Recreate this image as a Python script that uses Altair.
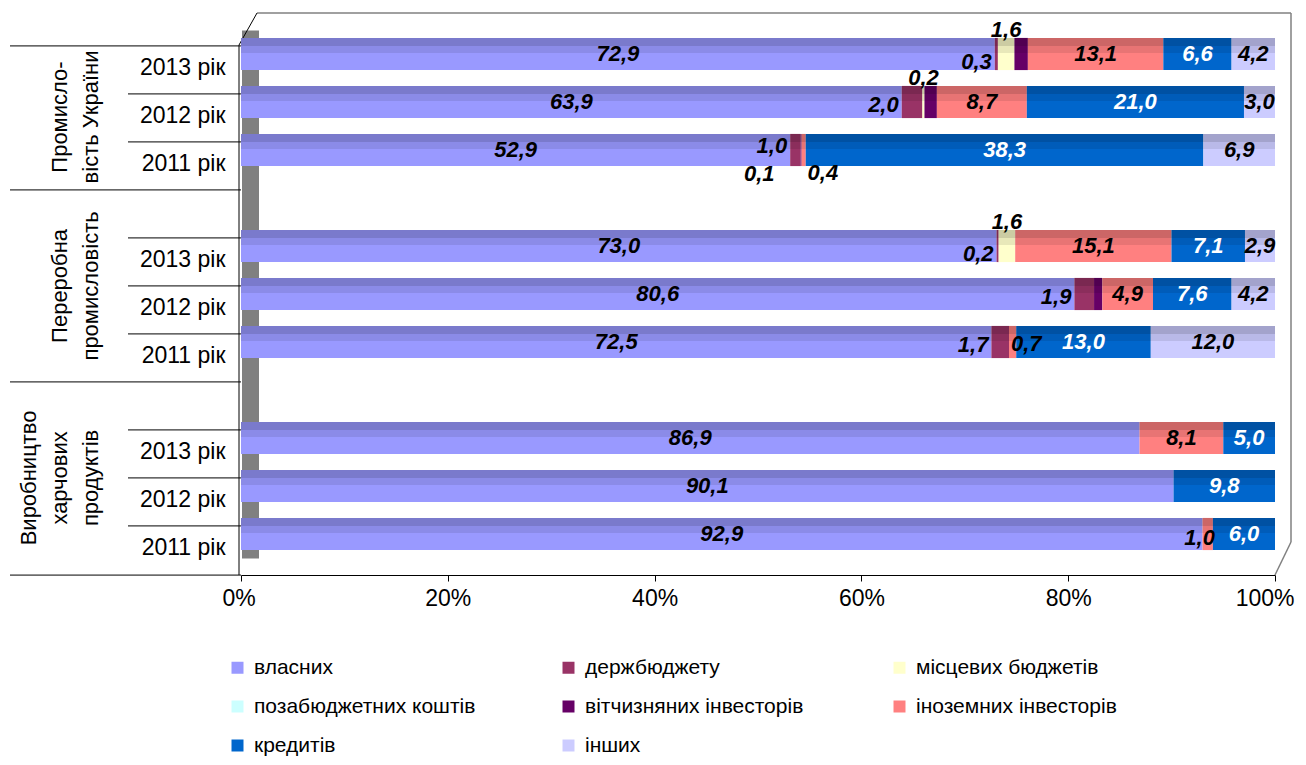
import altair as alt
import pandas as pd

groups = ["Промисловість України", "Переробна промисловість", "Виробництво харчових продуктів"]
group_titles = ["Промисло-\nвість України", "Переробна\nпромисловість", "Виробництво\nхарчових\nпродуктів"]
years = ["2013 рік", "2012 рік", "2011 рік"]

series = ["власних", "держбюджету", "місцевих бюджетів", "позабюджетних коштів",
          "вітчизняних інвесторів", "іноземних інвесторів", "кредитів", "інших"]
colors = ["#9999FF", "#993366", "#FFFFCC", "#CCFFFF", "#660066", "#FF8080", "#0066CC", "#CCCCFF"]

# rows: Промисловість 2013, 2012, 2011; Переробна 2013, 2012, 2011; Харчова 2013, 2012, 2011
vlasnykh = [72.9, 63.9, 52.9, 73.0, 80.6, 72.5, 86.9, 90.1, 92.9]
derzhbiudzhet = [0.3, 2.0, 1.0, 0.2, 1.9, 1.7, 0.0, 0.0, 0.0]
mistsevi = [1.6, 0.2, 0.0, 1.6, 0.0, 0.0, 0.0, 0.0, 0.0]
pozabiudzhetni = [0.0, 0.0, 0.0, 0.0, 0.0, 0.0, 0.0, 0.0, 0.0]
vitchyzniani = [1.3, 1.2, 0.1, 0.0, 0.8, 0.0, 0.0, 0.0, 0.0]
inozemni = [13.1, 8.7, 0.4, 15.1, 4.9, 0.7, 8.1, 0.0, 1.0]
kredyty = [6.6, 21.0, 38.3, 7.1, 7.6, 13.0, 5.0, 9.8, 6.0]
inshi = [4.2, 3.0, 6.9, 2.9, 4.2, 12.0, 0.0, 0.0, 0.0]

values_by_series = [vlasnykh, derzhbiudzhet, mistsevi, pozabiudzhetni,
                    vitchyzniani, inozemni, kredyty, inshi]

FONT = "Liberation Sans"
W, H = 1034, 528

# category order (top to bottom) with blank spacer rows between groups
cat_order = []
for g, grp in enumerate(groups):
    if g > 0:
        cat_order.append(grp + "|")
    for yr in years:
        cat_order.append(grp + "|" + yr)

records = []
for i in range(len(vlasnykh)):
    grp = groups[i // 3]
    yr = years[i % 3]
    for k, s in enumerate(series):
        v = values_by_series[k][i]
        if v > 0:
            records.append({"cat": grp + "|" + yr, "series": s, "order": k, "value": v})
df = pd.DataFrame(records)

yscale = alt.Scale(domain=cat_order, paddingInner=0.33, paddingOuter=0.165)
xscale = alt.Scale(domain=[0, 1], nice=False)

base = alt.Chart(df).transform_stack(
    stack="value", groupby=["cat"], as_=["x0", "x1"],
    sort=[alt.SortField("order", order="ascending")], offset="normalize"
).transform_calculate(
    mid="(datum.x0 + datum.x1) / 2",
    label="replace(format(datum.value, '.1f'), '.', ',')"
)

bars = base.mark_bar().encode(
    x=alt.X("x0:Q", scale=xscale,
            axis=alt.Axis(values=[0, 0.2, 0.4, 0.6, 0.8, 1.0], format=".0%", title=None,
                          grid=False, offset=17, labelFontSize=23, labelFont=FONT,
                          labelColor="black", domainColor="black", tickColor="black",
                          tickSize=6, labelPadding=6, labelFlush=True, labelFlushOffset=19,
                          labelOverlap=False)),
    x2="x1:Q",
    y=alt.Y("cat:N", scale=yscale,
            axis=alt.Axis(title=None, labelExpr="split(datum.value, '|')[1]",
                          domain=True, domainColor="#808080", domainWidth=17, offset=-9,
                          ticks=False, labelFontSize=23, labelFont=FONT, labelColor="black",
                          labelPadding=25, labelOffset=14)),
    color=alt.Color("series:N", scale=alt.Scale(domain=series, range=colors),
                    legend=alt.Legend(title=None, orient="none", legendX=-14, legendY=627,
                                      direction="horizontal",
                                      columns=3, columnPadding=82, rowPadding=17,
                                      gridAlign="all", symbolType="square", symbolSize=144,
                                      symbolStrokeWidth=0, labelFontSize=21, labelFont=FONT,
                                      labelColor="black", labelLimit=400, labelOffset=6)),
)

# darker upper part of each bar (3-D shading)
shade1 = base.mark_bar(height=8, yOffset=-12, color="black", opacity=0.2).encode(
    x="x0:Q", x2="x1:Q", y="cat:N")
shade2 = base.mark_bar(height=7, yOffset=-4.5, color="black", opacity=0.09).encode(
    x="x0:Q", x2="x1:Q", y="cat:N")

txt_color = alt.condition("datum.series == 'кредитів'", alt.value("white"), alt.value("black"))
lab = dict(font=FONT, fontSize=22, fontWeight="bold", fontStyle="italic", baseline="middle")


def labels(cond, x, align, dx=0, dy=0):
    return base.transform_filter(cond).mark_text(align=align, dx=dx, dy=dy, **lab).encode(
        x=x, y="cat:N", text="label:N", color=txt_color)


t_big = labels("datum.value >= 2.5", "mid:Q", "center")
t_mist = labels("datum.series == 'місцевих бюджетів'", "mid:Q", "center", dy=-24)
t_derzh1 = labels("datum.series == 'держбюджету' && datum.value < 0.5", "x0:Q", "right", dx=-3, dy=8)
t_derzh2 = labels("datum.series == 'держбюджету' && datum.value >= 0.5 && datum.value < 1.5",
                  "x0:Q", "right", dx=-3, dy=-4)
t_derzh3 = labels("datum.series == 'держбюджету' && datum.value >= 1.5 && datum.value < 2.5",
                  "x0:Q", "right", dx=-3, dy=3)
t_vitch = labels("datum.series == 'вітчизняних інвесторів' && datum.value < 0.5", "x0:Q", "right",
                 dx=-26, dy=24)
t_in1 = labels("datum.series == 'іноземних інвесторів' && datum.value < 0.5", "x0:Q", "left", dx=6, dy=23)
t_in2 = labels("datum.series == 'іноземних інвесторів' && datum.value >= 0.5 && datum.value < 0.9",
               "x0:Q", "left", dx=2, dy=2)
t_in3 = labels("datum.series == 'іноземних інвесторів' && datum.value >= 0.9 && datum.value < 2.5",
               "x1:Q", "right", dx=2, dy=4)

# table separator lines on the left
full_cats = [cat_order[0]] + [c for c in cat_order if c.endswith("|")]
short_cats = [c for c in cat_order if not c.endswith("|") and c.split("|")[1] != years[0]] + \
             [c for c in cat_order if c.endswith("|" + years[0]) and c.split("|")[0] != groups[0]]
rules_full = alt.Chart(pd.DataFrame({"cat": full_cats})).mark_rule(
    color="black", strokeWidth=1, yOffset=8).encode(
    y=alt.Y("cat:N", bandPosition=0), x=alt.value(-231), x2=alt.value(0))
rules_bottom = alt.Chart(pd.DataFrame({"cat": [cat_order[-1]]})).mark_rule(
    color="black", strokeWidth=1, yOffset=25).encode(
    y=alt.Y("cat:N", bandPosition=1), x=alt.value(-231), x2=alt.value(0))
rules_short = alt.Chart(pd.DataFrame({"cat": short_cats})).mark_rule(
    color="black", strokeWidth=1, yOffset=8).encode(
    y=alt.Y("cat:N", bandPosition=0), x=alt.value(-113), x2=alt.value(0))
edge = alt.Chart(pd.DataFrame({"cat": [cat_order[0]]})).mark_rule(
    color="black", strokeWidth=1).encode(x=alt.value(-2), y=alt.value(15), y2=alt.value(545))

# back-wall frame of the 3-D plot area (decoration)
DEPTH = 16
frame_top = alt.Chart(pd.DataFrame({"cat": [cat_order[0]]})).mark_rule(
    color="#808080", strokeWidth=1.5).encode(
    x=alt.value(DEPTH), x2=alt.value(W + DEPTH), y=alt.value(-DEPTH - 1), y2=alt.value(-DEPTH - 1))
frame_right = alt.Chart(pd.DataFrame({"cat": [cat_order[0]]})).mark_rule(
    color="#808080", strokeWidth=1.5).encode(
    x=alt.value(W + DEPTH), x2=alt.value(W + DEPTH), y=alt.value(-DEPTH - 1), y2=alt.value(H - DEPTH))
frame_diag = alt.Chart(pd.DataFrame({"cat": [cat_order[0]]})).mark_rule(
    color="#808080", strokeWidth=1.5).encode(
    x=alt.value(W + DEPTH), x2=alt.value(W), y=alt.value(H - DEPTH), y2=alt.value(H + 17))
wall_diag = alt.Chart(pd.DataFrame({"cat": [cat_order[0]]})).mark_rule(
    color="black", strokeWidth=1).encode(
    x=alt.value(-2), x2=alt.value(DEPTH), y=alt.value(15), y2=alt.value(-DEPTH - 1))

LINE_H = 31
LAST_LINE_X = -138
gtxt = dict(font=FONT, fontSize=22, angle=270, align="center", baseline="bottom",
            lineBreak="\n", lineHeight=LINE_H, color="black")


def group_label(k, band_pos, y_off):
    n_lines = group_titles[k].count("\n") + 1
    return alt.Chart(pd.DataFrame({"cat": [groups[k] + "|" + years[1]], "t": [group_titles[k]]})).mark_text(
        yOffset=y_off, **gtxt).encode(
        y=alt.Y("cat:N", bandPosition=band_pos),
        x=alt.value(LAST_LINE_X - (n_lines - 1) * LINE_H), text="t:N")


g1 = group_label(0, 0.5, 15)
g2 = group_label(1, 0, 8)
g3 = group_label(2, 0, 8)

chart = alt.layer(
    frame_top, frame_right, frame_diag, wall_diag,
    bars, shade1, shade2,
    t_big, t_mist, t_derzh1, t_derzh2, t_derzh3, t_vitch, t_in1, t_in2, t_in3,
    rules_full, rules_bottom, rules_short, edge, g1, g2, g3
).properties(
    width=W, height=H,
    autosize=alt.AutoSizeParams(type="none"),
    padding={"left": 233, "top": 22, "right": 23, "bottom": 199},
).configure_view(stroke=None)

chart.save("out.html", embed_options={"renderer": "svg", "actions": False})
